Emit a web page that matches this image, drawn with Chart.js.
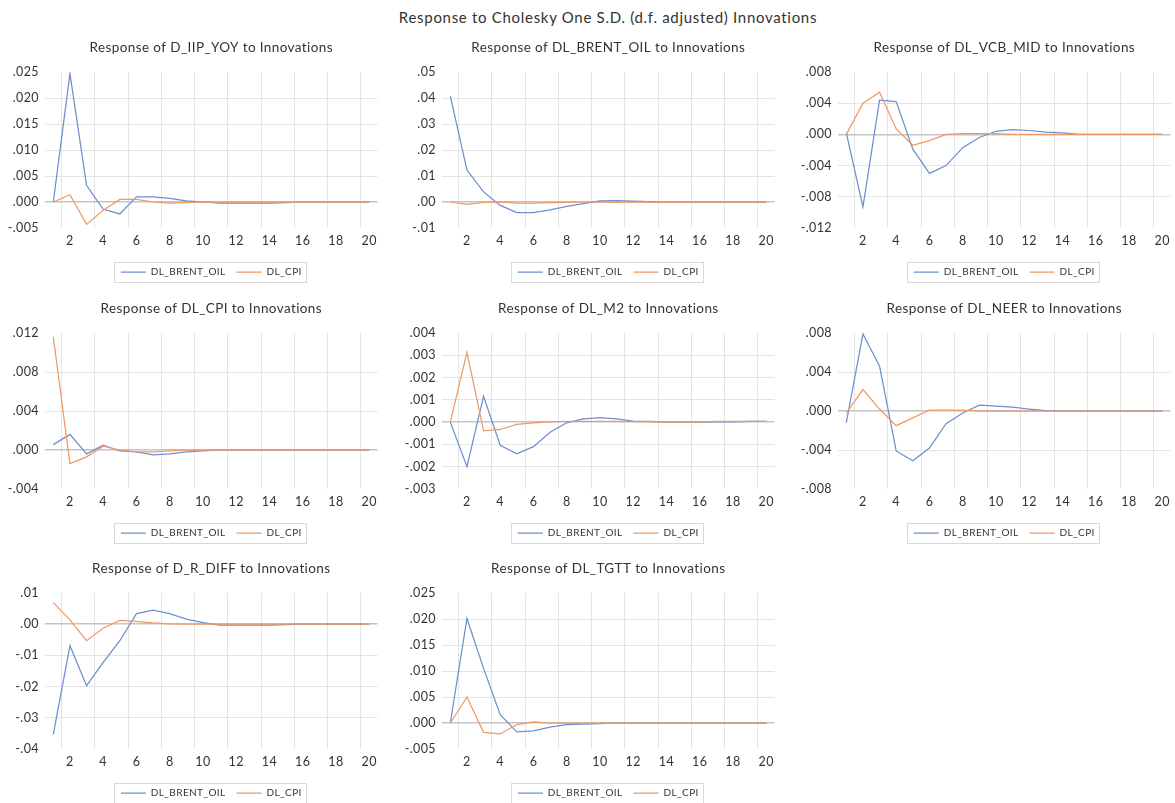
<!DOCTYPE html>
<html>
<head>
<meta charset="utf-8">
<title>Response to Cholesky One S.D. (d.f. adjusted) Innovations</title>
<script src="https://cdn.jsdelivr.net/npm/chart.js@4.4.1/dist/chart.umd.min.js"></script>
<style>
  html, body { margin: 0; padding: 0; background: #ffffff; }
  body { position: relative; width: 1175px; height: 803px; overflow: hidden; font-family: Lato, "Open Sans", sans-serif; }
  #mainTitle { position: absolute; top: 8px; left: 0; width: 1216px; text-align: center; font-size: 15px; letter-spacing: 0.7px; color: #333333; line-height: 18px; }
  canvas { position: absolute; }
</style>
</head>
<body>
<div id="mainTitle">Response to Cholesky One S.D. (d.f. adjusted) Innovations</div>
<script>
// Forecast horizon (periods)
const categories = ['1','2','3','4','5','6','7','8','9','10','11','12','13','14','15','16','17','18','19','20'];
const shockNames = ['DL_BRENT_OIL', 'DL_CPI'];

// Response of D_IIP_YOY
const iipOil = [0, 0.0247, 0.0032, -0.0014, -0.0023, 0.0010, 0.0010, 0.0007, 0.0002, 0.0000, -0.0002, -0.0002, -0.0002, -0.0002, -0.0001, 0, 0, 0, 0, 0];
const iipCpi = [0, 0.0014, -0.0043, -0.0016, 0.0005, 0.0005, 0.0000, -0.0002, -0.0001, 0, 0, 0, 0, 0, 0, 0, 0, 0, 0, 0];

// Response of DL_BRENT_OIL
const brentOil = [0.0407, 0.0123, 0.0039, -0.0013, -0.0041, -0.0041, -0.0030, -0.0017, -0.0006, 0.0004, 0.0005, 0.0003, 0.0001, 0, 0, 0, 0, 0, 0, 0];
const brentCpi = [0, -0.0009, -0.0001, 0, -0.0004, -0.0004, -0.0002, -0.0001, 0, 0, 0, 0, 0, 0, 0, 0, 0, 0, 0, 0];

// Response of DL_VCB_MID
const vcbOil = [0.0002, -0.0093, 0.0044, 0.0042, -0.0019, -0.0050, -0.0040, -0.0017, -0.0004, 0.0004, 0.0006, 0.0005, 0.0003, 0.0002, 0, 0, 0, 0, 0, 0];
const vcbCpi = [0, 0.0040, 0.0054, 0.0007, -0.0014, -0.0008, 0.0000, 0.0001, 0.0001, 0.0001, 0, 0, 0, 0, 0, 0, 0, 0, 0, 0];

// Response of DL_CPI
const cpiOil = [0.00055, 0.0016, -0.0004, 0.0005, -0.0001, -0.0002, -0.0005, -0.0004, -0.0002, -0.0001, 0, 0, 0, 0, 0, 0, 0, 0, 0, 0];
const cpiCpi = [0.0116, -0.0014, -0.0007, 0.0004, 0.0000, -0.0002, -0.0002, -0.0001, 0, 0, 0, 0, 0, 0, 0, 0, 0, 0, 0, 0];

// Response of DL_M2
const m2Oil = [0, -0.0020, 0.00116, -0.00104, -0.00142, -0.0011, -0.00045, -0.00003, 0.00015, 0.0002, 0.00015, 0.00005, 0.00003, 0, 0, 0, 0.00001, 0.00001, 0.00003, 0.00004];
const m2Cpi = [0, 0.00313, -0.00039, -0.00033, -0.0001, -0.00003, 0.00001, 0.00003, 0.00004, 0.00003, 0.00003, 0.00002, 0.00001, 0, 0, 0, 0.00004, 0.00004, 0.00003, 0.00003];

// Response of DL_NEER
const neerOil = [-0.0012, 0.0079, 0.0046, -0.0041, -0.0051, -0.0038, -0.0013, -0.0002, 0.0006, 0.0005, 0.0004, 0.0002, 0.00003, 0, 0, 0, 0, 0, 0, 0];
const neerCpi = [-0.0002, 0.0022, 0.0002, -0.0015, -0.0007, 0.0001, 0.0001, 0.0001, 0, 0, 0, 0, 0, 0, 0, 0, 0, 0, 0, 0];

// Response of D_R_DIFF
const rdiffOil = [-0.0353, -0.0069, -0.0197, -0.0122, -0.0053, 0.0034, 0.0045, 0.0034, 0.0016, 0.0005, -0.0003, -0.0003, -0.0003, -0.0003, -0.0001, 0, 0, 0, 0, 0];
const rdiffCpi = [0.0069, 0.0014, -0.0053, -0.0013, 0.0012, 0.0009, 0.0004, 0.0001, 0, 0, 0, 0, 0, 0, 0, 0, 0, 0, 0, 0];

// Response of DL_TGTT
const tgttOil = [0, 0.0201, 0.0105, 0.0016, -0.0017, -0.0015, -0.0008, -0.0003, -0.0002, -0.0001, 0, 0, 0, 0, 0, 0, 0, 0, 0, 0];
const tgttCpi = [0, 0.0050, -0.0018, -0.0021, -0.0003, 0.0002, 0, 0, 0, 0, 0, 0, 0, 0, 0, 0, 0, 0, 0, 0];

// Value axis ranges: [min, max, step, decimals]
const iipAxis   = [-0.005, 0.025, 0.005, 3];
const brentAxis = [-0.01, 0.05, 0.01, 2];
const vcbAxis   = [-0.012, 0.008, 0.004, 3];
const cpiAxis   = [-0.004, 0.012, 0.004, 3];
const m2Axis    = [-0.003, 0.004, 0.001, 3];
const neerAxis  = [-0.008, 0.008, 0.004, 3];
const rdiffAxis = [-0.04, 0.01, 0.01, 2];
const tgttAxis  = [-0.005, 0.025, 0.005, 3];

const panels = [
  { title: 'Response of D_IIP_YOY to Innovations',    oil: iipOil,   cpi: iipCpi,   axis: iipAxis },
  { title: 'Response of DL_BRENT_OIL to Innovations', oil: brentOil, cpi: brentCpi, axis: brentAxis },
  { title: 'Response of DL_VCB_MID to Innovations',   oil: vcbOil,   cpi: vcbCpi,   axis: vcbAxis },
  { title: 'Response of DL_CPI to Innovations',       oil: cpiOil,   cpi: cpiCpi,   axis: cpiAxis },
  { title: 'Response of DL_M2 to Innovations',        oil: m2Oil,    cpi: m2Cpi,    axis: m2Axis },
  { title: 'Response of DL_NEER to Innovations',      oil: neerOil,  cpi: neerCpi,  axis: neerAxis },
  { title: 'Response of D_R_DIFF to Innovations',     oil: rdiffOil, cpi: rdiffCpi, axis: rdiffAxis },
  { title: 'Response of DL_TGTT to Innovations',      oil: tgttOil,  cpi: tgttCpi,  axis: tgttAxis }
];

// Grid geometry: plot-area left edges per column, top edges per row
const colLeft = [45, 442, 838];
const rowTop = [72, 333, 593];
const PLOT_W = 333, PLOT_H = 156;
const Y_AXIS_W = 45, TITLE_H = 42, X_AXIS_H = 28, RIGHT_PAD = 4, BOTTOM_PAD = 1;
const LEGEND_FONT = 10, LEGEND_PAD = 11;
const TITLE_FONT = 13.5, TITLE_LH = 1.2;
const CANVAS_W = Y_AXIS_W + PLOT_W + RIGHT_PAD;
const CANVAS_H = Math.round(TITLE_H + PLOT_H + X_AXIS_H + (LEGEND_FONT + LEGEND_PAD + 10) + BOTTOM_PAD);

const BLUE = '#6d8fd0', ORANGE = '#ef9a63';
const TEXT = '#333333', GRID = '#e4e4e4', ZERO = '#c4c4c4';
const FONT = 'Lato, "Open Sans", sans-serif';

function fmt(v, d) {
  const r = Math.abs(v) < 1e-12 ? 0 : v;
  const s = Math.abs(r).toFixed(d).replace(/^0\./, '.');
  return (r < 0 ? '-' : '') + s;
}

// Slightly open letter spacing for all canvas text
const textSpacing = {
  id: 'textSpacing',
  beforeUpdate(chart) { if ('letterSpacing' in chart.ctx) chart.ctx.letterSpacing = '0.4px'; },
  beforeDraw(chart) { if ('letterSpacing' in chart.ctx) chart.ctx.letterSpacing = '0.4px'; }
};

// Thin border round the legend entries
const legendFrame = {
  id: 'legendFrame',
  afterDraw(chart) {
    const lg = chart.legend;
    if (!lg || !lg.legendHitBoxes || !lg.legendHitBoxes.length) return;
    const hb = lg.legendHitBoxes;
    const first = hb[0], last = hb[hb.length - 1];
    const cy = first.top + first.height / 2;
    const x0 = Math.round(first.left - 7) + 0.5;
    const x1 = Math.round(last.left + last.width + 4) + 0.5;
    const y0 = Math.round(cy - 10) + 0.5;
    const y1 = Math.round(cy + 10) + 0.5;
    const ctx = chart.ctx;
    ctx.save();
    ctx.strokeStyle = '#d9d9d9';
    ctx.lineWidth = 1;
    ctx.strokeRect(x0, y0, x1 - x0, y1 - y0);
    ctx.restore();
  }
};

function build() {
  panels.forEach((p, i) => {
    const col = i % 3, row = Math.floor(i / 3);
    const cv = document.createElement('canvas');
    cv.width = CANVAS_W; cv.height = CANVAS_H;
    cv.style.width = CANVAS_W + 'px'; cv.style.height = CANVAS_H + 'px';
    cv.style.left = (colLeft[col] - Y_AXIS_W) + 'px';
    cv.style.top = (rowTop[row] - TITLE_H) + 'px';
    document.body.appendChild(cv);

    const [yMin, yMax, yStep, dec] = p.axis;
    const titleTop = 17.5 - TITLE_FONT * TITLE_LH / 2;

    new Chart(cv.getContext('2d'), {
      type: 'line',
      data: {
        labels: categories,
        datasets: [
          { label: shockNames[0], data: p.oil, borderColor: BLUE, backgroundColor: BLUE, borderWidth: 1.25, pointRadius: 0, tension: 0, fill: false, order: 1 },
          { label: shockNames[1], data: p.cpi, borderColor: ORANGE, backgroundColor: ORANGE, borderWidth: 1.25, pointRadius: 0, tension: 0, fill: false, order: 0 }
        ]
      },
      options: {
        responsive: false,
        animation: false,
        devicePixelRatio: 1,
        events: [],
        layout: { padding: { left: 0, right: RIGHT_PAD, top: 0, bottom: BOTTOM_PAD } },
        plugins: {
          tooltip: { enabled: false },
          title: {
            display: true,
            text: p.title,
            fullSize: false,
            color: TEXT,
            font: { family: FONT, size: TITLE_FONT, weight: 'normal', lineHeight: TITLE_LH },
            padding: { top: titleTop, bottom: TITLE_H - titleTop - TITLE_FONT * TITLE_LH }
          },
          legend: {
            display: true,
            position: 'bottom',
            fullSize: false,
            labels: {
              usePointStyle: true,
              pointStyle: 'line',
              pointStyleWidth: 25,
              color: TEXT,
              font: { family: FONT, size: LEGEND_FONT },
              padding: LEGEND_PAD,
              sort: (a, b) => a.datasetIndex - b.datasetIndex
            }
          }
        },
        scales: {
          x: {
            type: 'category',
            offset: true,
            border: { display: false },
            grid: {
              offset: true,
              drawTicks: false,
              color: c => (c.type === 'tick' && c.index % 2 === 1) ? GRID : 'rgba(0,0,0,0)'
            },
            ticks: {
              autoSkip: false,
              maxRotation: 0,
              padding: 5,
              color: TEXT,
              font: { family: FONT, size: 12.5 },
              callback: (v, idx) => (idx % 2 === 1 ? categories[idx] : '')
            },
            afterFit: s => { s.height = X_AXIS_H; }
          },
          y: {
            min: yMin,
            max: yMax,
            border: { display: false },
            grid: {
              drawTicks: false,
              color: c => {
                if (!c.tick) return 'rgba(0,0,0,0)';
                const v = c.tick.value;
                if (Math.abs(v) < 1e-10) return ZERO;
                if (Math.abs(v - yMin) < 1e-10 || Math.abs(v - yMax) < 1e-10) return 'rgba(0,0,0,0)';
                return GRID;
              },
              lineWidth: c => (c.tick && Math.abs(c.tick.value) < 1e-10 ? 1.5 : 1)
            },
            ticks: {
              stepSize: yStep,
              padding: 6,
              color: TEXT,
              font: { family: FONT, size: 12.5 },
              callback: v => fmt(v, dec)
            },
            afterFit: s => { s.width = Y_AXIS_W; }
          }
        }
      },
      plugins: [textSpacing, legendFrame]
    });
  });
}

const fontReady = (document.fonts && document.fonts.load)
  ? Promise.all([document.fonts.load('13px Lato'), document.fonts.load('10px Lato')]).catch(() => null)
  : Promise.resolve();
fontReady.then(build, build);
</script>
</body>
</html>
